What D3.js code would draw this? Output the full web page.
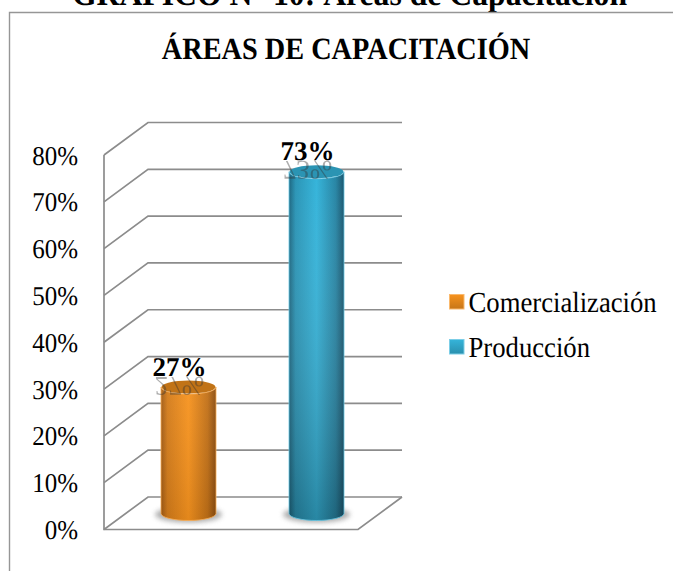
<!DOCTYPE html>
<html><head><meta charset="utf-8">
<script src="https://cdn.jsdelivr.net/npm/d3@7/dist/d3.min.js"></script>
<style>html,body{margin:0;padding:0;background:#fff;overflow:hidden}svg{display:block}text{font-family:"Liberation Serif",serif;fill:#000;text-rendering:geometricPrecision}</style>
</head><body><svg id="c" width="673" height="571"></svg>
<script>
const categories = ["Comercialización", "Producción"];
const values = [27, 73];
const labels = ["27%", "73%"];
const ticks = [0,10,20,30,40,50,60,70,80];
const pageTitle = "GRÁFICO N° 10: Áreas de Capacitación";
const chartTitle = "ÁREAS DE CAPACITACIÓN";

const svg = d3.select("#c");
const defs = svg.append("defs");
const W=673,H=571;
const y = d3.scaleLinear().domain([0,80]).range([529.5,155]);
const dx=44, dy=32.5, grid="#8c8c8c";
const x = d3.scalePoint().domain(categories).range([188.5,316.5]);
const rx=27.5, ry=7, stretch=1.09;
const place=(sel,px,py)=>sel.attr("transform",`translate(${px},${py}) scale(1,${stretch})`);

const colors=[["#a05a14","#f7931e","#8a4c10"],["#1d6680","#35b4da","#1b566e"]];
colors.forEach((c,i)=>{
  const g=defs.append("linearGradient").attr("id","g"+i);
  [[0,c[0]],[.12,d3.interpolateRgb(c[0],c[1])(.6)],[.5,c[1]],[.85,d3.interpolateRgb(c[2],c[1])(.5)],[1,c[2]]]
    .forEach(s=>g.append("stop").attr("offset",s[0]).attr("stop-color",s[1]));
  const v=defs.append("linearGradient").attr("id","v"+i).attr("x2",0).attr("y2",1);
  v.append("stop").attr("offset",0).attr("stop-color","#fff").attr("stop-opacity",i?0:.05);
  v.append("stop").attr("offset",1).attr("stop-color","#000").attr("stop-opacity",i?.25:.08);
});
defs.append("filter").attr("id","bl").attr("x","-30%").attr("y","-60%").attr("width","160%").attr("height","220%")
  .append("feGaussianBlur").attr("stdDeviation",2.5);
defs.append("filter").attr("id","soft").append("feGaussianBlur").attr("stdDeviation",.35);

place(svg.append("text"),349.5,5).attr("text-anchor","middle").attr("font-size",31.7).attr("font-weight","bold").text(pageTitle);

// frame
svg.append("path").attr("d",`M9.5 571V12.5H${W}`).attr("fill","none").attr("stroke","#969696").attr("stroke-width",1.4);
place(svg.append("text"),346,58.7).attr("text-anchor","middle").attr("font-size",28.3).attr("font-weight","bold").text(chartTitle);

const gGrid=svg.append("g").attr("fill","none").attr("stroke",grid).attr("stroke-width",1.7).attr("filter","url(#soft)");
ticks.forEach(t=>{
  const yy=y(t);
  gGrid.append("path").attr("d",`M${104} ${yy}L${104+dx} ${yy-dy}H${358+dx}`);
});
gGrid.append("path").attr("d",`M104 ${y(80)}V${y(0)}H358L${358+dx} ${y(0)-dy}`);

// axis labels
svg.append("g").selectAll("text").data(ticks).join("text")
  .attr("transform",t=>`translate(78,${y(t)+9.5}) scale(1,${stretch})`).attr("text-anchor","end").attr("font-size",25).text(t=>t+"%");

// bars
const base = y(0)-16;
const h = d3.scaleLinear().domain([0,80]).range([0,y(0)-y(80)]);
categories.forEach((c,i)=>{
  const X=x(c), top=base-h(values[i]);
  const g=svg.append("g");
  g.append("ellipse").attr("cx",X).attr("cy",base+1).attr("rx",rx+6).attr("ry",ry+1).attr("fill","#777").attr("opacity",.6).attr("filter","url(#bl)");
  const body=`M${X-rx} ${top}V${base}A${rx} ${ry} 0 0 0 ${X+rx} ${base}V${top}A${rx} ${ry} 0 0 1 ${X-rx} ${top}Z`;
  g.append("path").attr("d",body).attr("fill",`url(#g${i})`);
  g.append("path").attr("d",body).attr("fill",`url(#v${i})`);
  g.append("path").attr("d",body).attr("fill","none").attr("stroke",d3.interpolateRgb(colors[i][1],"#fff")(.25)).attr("stroke-width",1).attr("opacity",.8);
  g.append("ellipse").attr("cx",X).attr("cy",top).attr("rx",rx-.5).attr("ry",ry-.5)
    .attr("fill",d3.interpolateRgb(colors[i][1],"#000")(i?.18:.22));
  // reflected ghost of the data label, as in the reference
  const lx=X-9, ly=top-11.5;
  g.append("text").attr("transform",`translate(${lx},${ly+1}) scale(1,-1)`).attr("text-anchor","middle").attr("font-size",27)
    .attr("opacity",.4).style("fill","#333").text(labels[i]);
  svg.append("text").attr("x",lx).attr("y",ly).attr("text-anchor","middle").attr("font-size",27).attr("font-weight","bold").text(labels[i]);
});

// legend
const ly=d3.scalePoint().domain(categories).range([303,348]);
categories.forEach((c,i)=>{
  const yy=ly(c);
  const lg=defs.append("linearGradient").attr("id","l"+i).attr("x2",0).attr("y2",1);
  lg.append("stop").attr("offset",0).attr("stop-color",colors[i][1]);
  lg.append("stop").attr("offset",1).attr("stop-color",d3.interpolateRgb(colors[i][1],"#000")(.2));
  svg.append("rect").attr("x",449.5).attr("y",yy-8.5).attr("width",14.5).attr("height",14.5).attr("fill",`url(#l${i})`).attr("stroke",d3.interpolateRgb(colors[i][1],"#fff")(.35));
  place(svg.append("text"),468.5,yy+8.5).attr("font-size",26.7).text(c);
});
</script></body></html>
